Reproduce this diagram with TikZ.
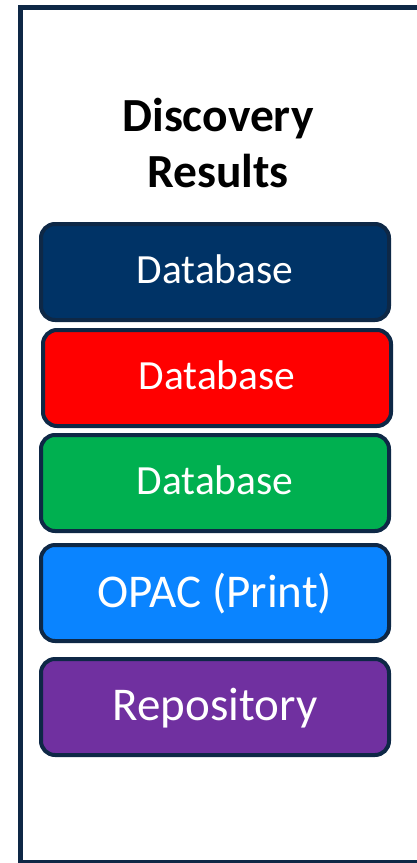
\documentclass[tikz,border=0pt]{standalone}
\usepackage{fontspec}
\setmainfont{Carlito}
\usetikzlibrary{positioning}
\definecolor{navyedge}{RGB}{14,40,70}
\definecolor{dbnavy}{RGB}{0,51,102}
\definecolor{dbred}{RGB}{255,0,0}
\definecolor{dbgreen}{RGB}{0,176,80}
\definecolor{opacblue}{RGB}{10,132,255}
\definecolor{repopurple}{RGB}{112,48,160}
\tikzset{
    block/.style = {draw=navyedge, rectangle, rounded corners=14pt,
        line width=4pt, text=white, text depth=6pt,
        minimum height=96pt,
        minimum width=348pt, align=center,
        font=\fontsize{41.5}{49}\selectfont},
    bigblock/.style = {block, font=\fontsize{47}{56}\selectfont},
    heading/.style = {align=center, inner sep=0pt,
        font=\fontsize{47.5}{56}\selectfont\bfseries}
}

\begin{document}
\begin{tikzpicture}[node distance=106pt]
        \useasboundingbox (0pt,0pt) rectangle (416pt,-863pt);
        % outer frame, cut at the right
        \draw [navyedge, line width=5pt] (20pt,-7pt) rectangle (440pt,-862pt);
        \node [heading] (head) at (218pt,-143pt) {Discovery\\Results};
        \node [block, fill=dbnavy] (db1) at (215pt,-272pt) {Database};
        \node [block, fill=dbred, below of=db1, node distance=106pt, xshift=2pt] (db2) {Database};
        \node [block, fill=dbgreen, below of=db2, node distance=105pt, xshift=-2pt] (db3) {Database};
        \node [bigblock, fill=opacblue, below of=db3, node distance=110pt] (opac) {OPAC (Print)};
        \node [bigblock, fill=repopurple, below of=opac, node distance=114pt] (repo) {Repository};
\end{tikzpicture}
\end{document}
